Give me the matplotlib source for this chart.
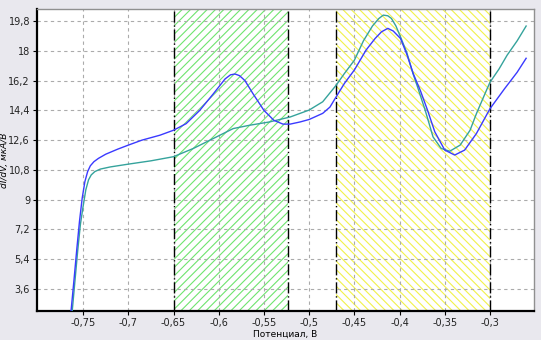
import matplotlib
matplotlib.use("Agg")
import matplotlib.pyplot as plt
from matplotlib.ticker import FuncFormatter

# Data
blue_x = [-0.7633, -0.760, -0.757, -0.754, -0.751, -0.748, -0.745, -0.742, -0.738, -0.733,
          -0.725, -0.712, -0.700, -0.685, -0.665, -0.650, -0.636, -0.621, -0.606, -0.593,
          -0.587, -0.582, -0.577, -0.571, -0.562, -0.550, -0.539, -0.529, -0.521, -0.510,
          -0.500, -0.485, -0.477, -0.470, -0.461, -0.450, -0.437, -0.427, -0.420, -0.413,
          -0.407, -0.399, -0.392, -0.385, -0.377, -0.369, -0.361, -0.350, -0.339, -0.328,
          -0.315, -0.300, -0.284, -0.270, -0.260]
blue_y = [2.3, 4.2, 6.0, 7.7, 9.1, 10.1, 10.7, 11.05, 11.3, 11.5,
          11.75, 12.05, 12.3, 12.6, 12.9, 13.2, 13.6, 14.4, 15.4, 16.3,
          16.55, 16.6, 16.5, 16.2, 15.4, 14.4, 13.8, 13.57, 13.57, 13.7,
          13.85, 14.22, 14.6, 15.23, 16.03, 16.84, 18.05, 18.75, 19.15, 19.36,
          19.2, 18.75, 17.8, 16.64, 15.6, 14.4, 13.1, 12.0, 11.7, 12.0,
          13.0, 14.5, 15.7, 16.7, 17.55]

teal_x = [-0.762, -0.759, -0.756, -0.753, -0.750, -0.747, -0.744, -0.741, -0.737, -0.731,
          -0.720, -0.700, -0.675, -0.650, -0.628, -0.606, -0.584, -0.566, -0.544, -0.521,
          -0.500, -0.485, -0.470, -0.461, -0.450, -0.440, -0.430, -0.423, -0.418, -0.413,
          -0.409, -0.404, -0.399, -0.392, -0.385, -0.380, -0.3716, -0.363, -0.354, -0.3445,
          -0.333, -0.322, -0.315, -0.304, -0.300, -0.290, -0.281, -0.270, -0.260]
teal_y = [2.3, 4.1, 5.9, 7.5, 8.6, 9.6, 10.2, 10.5, 10.7, 10.85,
          10.98, 11.15, 11.35, 11.6, 12.1, 12.7, 13.3, 13.5, 13.7, 14.0,
          14.42, 14.92, 15.93, 16.63, 17.43, 18.6, 19.5, 19.95, 20.16, 20.12,
          19.96, 19.5, 18.85, 17.9, 16.6, 15.8, 14.4, 12.8, 12.1, 11.93,
          12.3, 13.2, 14.2, 15.6, 16.1, 16.9, 17.74, 18.6, 19.5]

green_span = (-0.65, -0.523)
yellow_span = (-0.47, -0.30)

x_ticks = [-0.75, -0.7, -0.65, -0.6, -0.55, -0.5, -0.45, -0.4, -0.35, -0.3]
y_ticks = [3.6, 5.4, 7.2, 9.0, 10.8, 12.6, 14.4, 16.2, 18.0, 19.8]

plt.rcParams['hatch.linewidth'] = 0.8
fig = plt.figure(figsize=(5.41, 3.40), dpi=100)
fig.patch.set_facecolor('#e9e8ee')
ax = fig.add_axes([37/541, 1 - 311/340, (534 - 37)/541, (311 - 9)/340])
ax.set_facecolor('white')

ax.set_xlim(-0.801, -0.2513)
ax.set_ylim(2.27, 20.53)

ax.axvspan(*green_span, facecolor='white', edgecolor='#6fe46f', hatch='////', linewidth=0, zorder=0.5)
ax.axvspan(*yellow_span, facecolor='white', edgecolor='#f2f24a', hatch='\\\\\\\\', linewidth=0, zorder=0.5)
for xv in (*green_span, *yellow_span):
    ax.axvline(xv, color='black', lw=1.0, linestyle=(0, (8, 2, 1, 2)), zorder=2)

ax.set_xticks(x_ticks)
ax.set_yticks(y_ticks)
ax.grid(True, color='#ababab', linestyle=(0, (3, 3)), lw=0.8, zorder=1)
ax.set_axisbelow(True)

fmt = FuncFormatter(lambda v, p: ('%g' % round(v, 2)).replace('.', ','))
ax.xaxis.set_major_formatter(fmt)
ax.yaxis.set_major_formatter(fmt)
ax.tick_params(labelsize=7, length=3, width=0.8, pad=2, labelcolor='#222222')

ax.plot(teal_x, teal_y, color='#35a39c', lw=1.0, zorder=3)
ax.plot(blue_x, blue_y, color='#3a3aff', lw=1.0, zorder=4)

for s in ('left', 'bottom'):
    ax.spines[s].set_color('black')
    ax.spines[s].set_linewidth(1.6)
for s in ('top', 'right'):
    ax.spines[s].set_color('#909090')
    ax.spines[s].set_linewidth(1.0)

ax.set_xlabel('Потенциал, В', fontsize=6.5, labelpad=1)
ax.set_ylabel('dI/dV, мкА/В', fontsize=6.5, style='italic')
ax.yaxis.set_label_coords(-28/497, 0.5)

fig.savefig('out.png', dpi=100, facecolor=fig.get_facecolor())
